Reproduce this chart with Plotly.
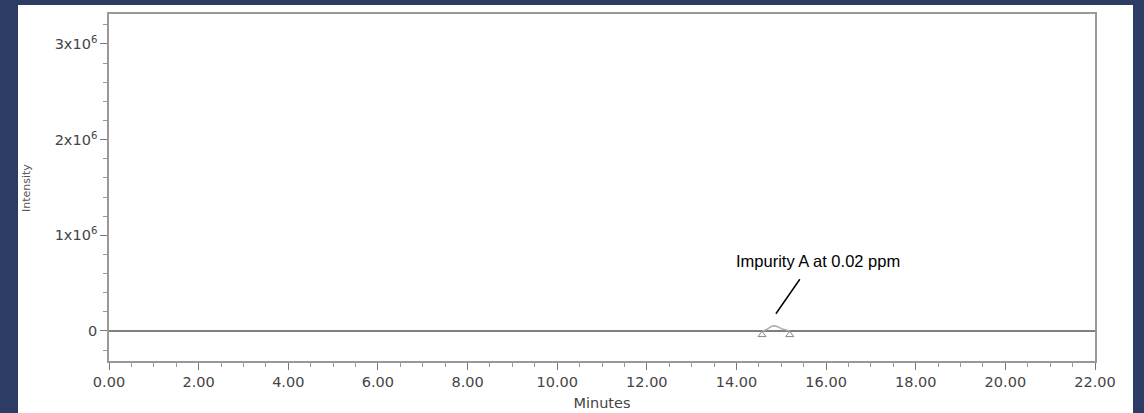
import plotly.graph_objects as go

# Data (minutes, intensity)
base_time = [0.0, 22.0]
base_intensity = [0.0, 0.0]

peak_time = [14.57, 14.65, 14.72, 14.79, 14.85, 14.92, 15.00, 15.10, 15.19]
peak_intensity = [0.0, 0.01e6, 0.03e6, 0.05e6, 0.055e6, 0.045e6, 0.025e6, 0.008e6, 0.0]

marker_time = [14.57, 15.19]
marker_intensity = [-0.04e6, -0.04e6]

y_tickvals = [0, 1e6, 2e6, 3e6]
y_ticktext = ["0", "1x10<sup>6</sup>", "2x10<sup>6</sup>", "3x10<sup>6</sup>"]

annot_text = "Impurity A at 0.02 ppm"
annot_x = 14.88
annot_y = 0.18e6

W, H = 1144, 413
L, R, T, B = 109, 49, 14, 52
pw, ph = W - L - R, H - T - B
BLUE = "#2d3c64"

def px(x):
    return (x - L) / pw

def py(y):
    return (H - B - y) / ph

fig = go.Figure()
fig.add_trace(go.Scatter(x=base_time, y=base_intensity, mode="lines",
                         line=dict(color="#555555", width=1.5), showlegend=False))
fig.add_trace(go.Scatter(x=peak_time, y=peak_intensity, mode="lines",
                         line=dict(color="#aaaaaa", width=1.5), showlegend=False))
fig.add_trace(go.Scatter(x=marker_time, y=marker_intensity, mode="markers",
                         marker=dict(symbol="triangle-up-open", size=7, color="#888888",
                                     line=dict(width=1)), showlegend=False))

tickfont = dict(family="DejaVu Sans", size=14.5, color="#444444")

fig.update_layout(
    width=W, height=H,
    margin=dict(l=L, r=R, t=T, b=B),
    paper_bgcolor=BLUE,
    plot_bgcolor="white",
    xaxis=dict(range=[0, 22], dtick=2, tick0=0, tickformat=".2f", automargin=False,
               ticks="outside", ticklen=7, tickcolor="#777777", tickwidth=1,
               minor=dict(dtick=0.5, ticks="outside", ticklen=4, tickcolor="#999999"),
               showline=True, linecolor="#999999", linewidth=1.5, mirror=True,
               showgrid=False, zeroline=False, tickfont=tickfont,
               title=dict(text="Minutes", font=dict(family="DejaVu Sans", size=14.5, color="#444444"),
                          standoff=9)),
    yaxis=dict(range=[-0.3136e6, 3.313e6], tickvals=y_tickvals, ticktext=y_ticktext,
               automargin=False,
               ticks="outside", ticklen=7, tickcolor="#777777", tickwidth=1,
               minor=dict(dtick=0.2e6, tick0=0, ticks="outside", ticklen=4, tickcolor="#999999"),
               showline=True, linecolor="#999999", linewidth=1.5, mirror=True,
               showgrid=False, zeroline=False, tickfont=tickfont),
    shapes=[dict(type="rect", xref="paper", yref="paper",
                 x0=px(18), x1=px(1133), y0=py(430), y1=py(5),
                 fillcolor="white", line=dict(width=0), layer="below")],
    annotations=[
        dict(x=annot_x, y=annot_y, xref="x", yref="y", text="", showarrow=True,
             arrowhead=0, arrowwidth=1.5, arrowcolor="black", ax=25, ay=-36),
        dict(x=annot_x, y=annot_y, xref="x", yref="y", text=annot_text, showarrow=False,
             xshift=42, yshift=53, font=dict(family="Liberation Sans", size=16.5, color="black")),
        dict(x=px(26), y=py(188), xref="paper", yref="paper", text="Intensity", showarrow=False,
             xanchor="center", yanchor="middle",
             textangle=-90, font=dict(family="DejaVu Sans", size=11, color="#555555")),
    ],
)

fig.write_html("out.html", config={"displayModeBar": False},
               post_script="document.body.style.margin='0';document.body.style.background='%s';" % BLUE)
